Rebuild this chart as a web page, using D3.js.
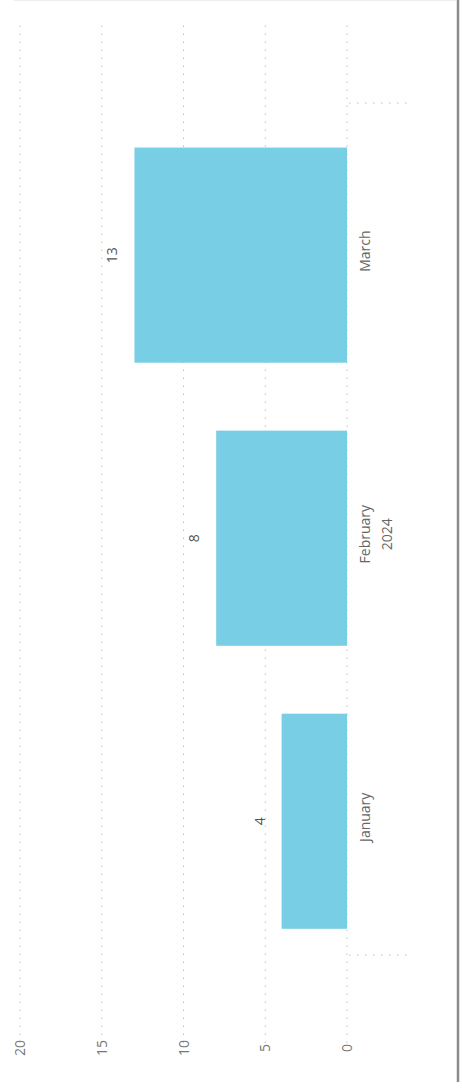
<!DOCTYPE html>
<html>
<head>
<meta charset="utf-8">
<script src="https://cdn.jsdelivr.net/npm/d3@7"></script>
<style>
  body { margin: 0; background: #fff; }
  text { font-family: "Open Sans", "Segoe UI", sans-serif; }
</style>
</head>
<body>
<div class="container"></div>
<script>
var months = ["January", "February", "March"];
var counts = [4, 8, 13];
var yearLabel = "2024";
var ticks = [0, 5, 10, 15, 20];

var W = 462, H = 1089;

var svg = d3.select(".container").append('svg')
  .attr('width', W)
  .attr('height', H);

// the chart is drawn as a normal column chart, then turned on its side
var g = svg.append('g')
  .attr('transform', 'translate(0,' + H + ') rotate(-90)');

var x = d3.scaleBand()
  .domain(months)
  .range([134, 986])
  .paddingInner(0.24)
  .paddingOuter(0.125)
  .align(0.37);

var y = d3.scaleLinear()
  .domain([0, 20])
  .range([347, 20]);

// gridlines
g.selectAll('.grid').data(ticks).enter()
  .append('line').attr('class', 'grid')
  .attr('x1', 46).attr('x2', 1067)
  .attr('y1', function(d){ return y(d); })
  .attr('y2', function(d){ return y(d); })
  .attr('stroke', '#c0c0c0')
  .attr('stroke-width', 1)
  .attr('stroke-dasharray', '1.5,6.5');

// value tick labels
g.selectAll('.tick').data(ticks).enter()
  .append('text').attr('class', 'tick')
  .attr('x', 41)
  .attr('y', function(d){ return y(d) + 5; })
  .attr('text-anchor', 'middle')
  .attr('font-size', 14)
  .attr('fill', '#777')
  .text(function(d){ return d; });

// bars
g.selectAll('.bar').data(counts).enter()
  .append('rect').attr('class', 'bar')
  .attr('x', function(d, i){ return x(months[i]); })
  .attr('width', x.bandwidth())
  .attr('y', function(d){ return y(d); })
  .attr('height', function(d){ return y(0) - y(d); })
  .attr('fill', '#78cee4');

// data labels
g.selectAll('.lbl').data(counts).enter()
  .append('text').attr('class', 'lbl')
  .attr('x', function(d, i){ return x(months[i]) + x.bandwidth() / 2; })
  .attr('y', function(d){ return y(d) - 17; })
  .attr('text-anchor', 'middle')
  .attr('font-size', 14)
  .attr('fill', '#555')
  .text(function(d){ return d; });

// category labels
g.selectAll('.cat').data(months).enter()
  .append('text').attr('class', 'cat')
  .attr('x', function(d){ return x(d) + x.bandwidth() / 2 + 4; })
  .attr('y', 370)
  .attr('text-anchor', 'middle')
  .attr('font-size', 14)
  .attr('fill', '#666')
  .text(function(d){ return d; });

g.append('text')
  .attr('x', x(months[1]) + x.bandwidth() / 2 + 4)
  .attr('y', 392)
  .attr('text-anchor', 'middle')
  .attr('font-size', 14)
  .attr('fill', '#666')
  .text(yearLabel);

// hierarchy separators at both ends of the category axis
g.selectAll('.sep').data(x.range()).enter()
  .append('line').attr('class', 'sep')
  .attr('x1', function(d){ return d; })
  .attr('x2', function(d){ return d; })
  .attr('y1', 349).attr('y2', 410)
  .attr('stroke', '#c0c0c0')
  .attr('stroke-dasharray', '1.5,6.5');

// container edges
svg.append('line')
  .attr('x1', 458).attr('x2', 458)
  .attr('y1', 0).attr('y2', 1082)
  .attr('stroke', '#8c8c8c')
  .attr('stroke-width', 2.5);
svg.append('line')
  .attr('x1', 14).attr('x2', 456)
  .attr('y1', 0.5).attr('y2', 0.5)
  .attr('stroke', '#eeeeee');
</script>
</body>
</html>
